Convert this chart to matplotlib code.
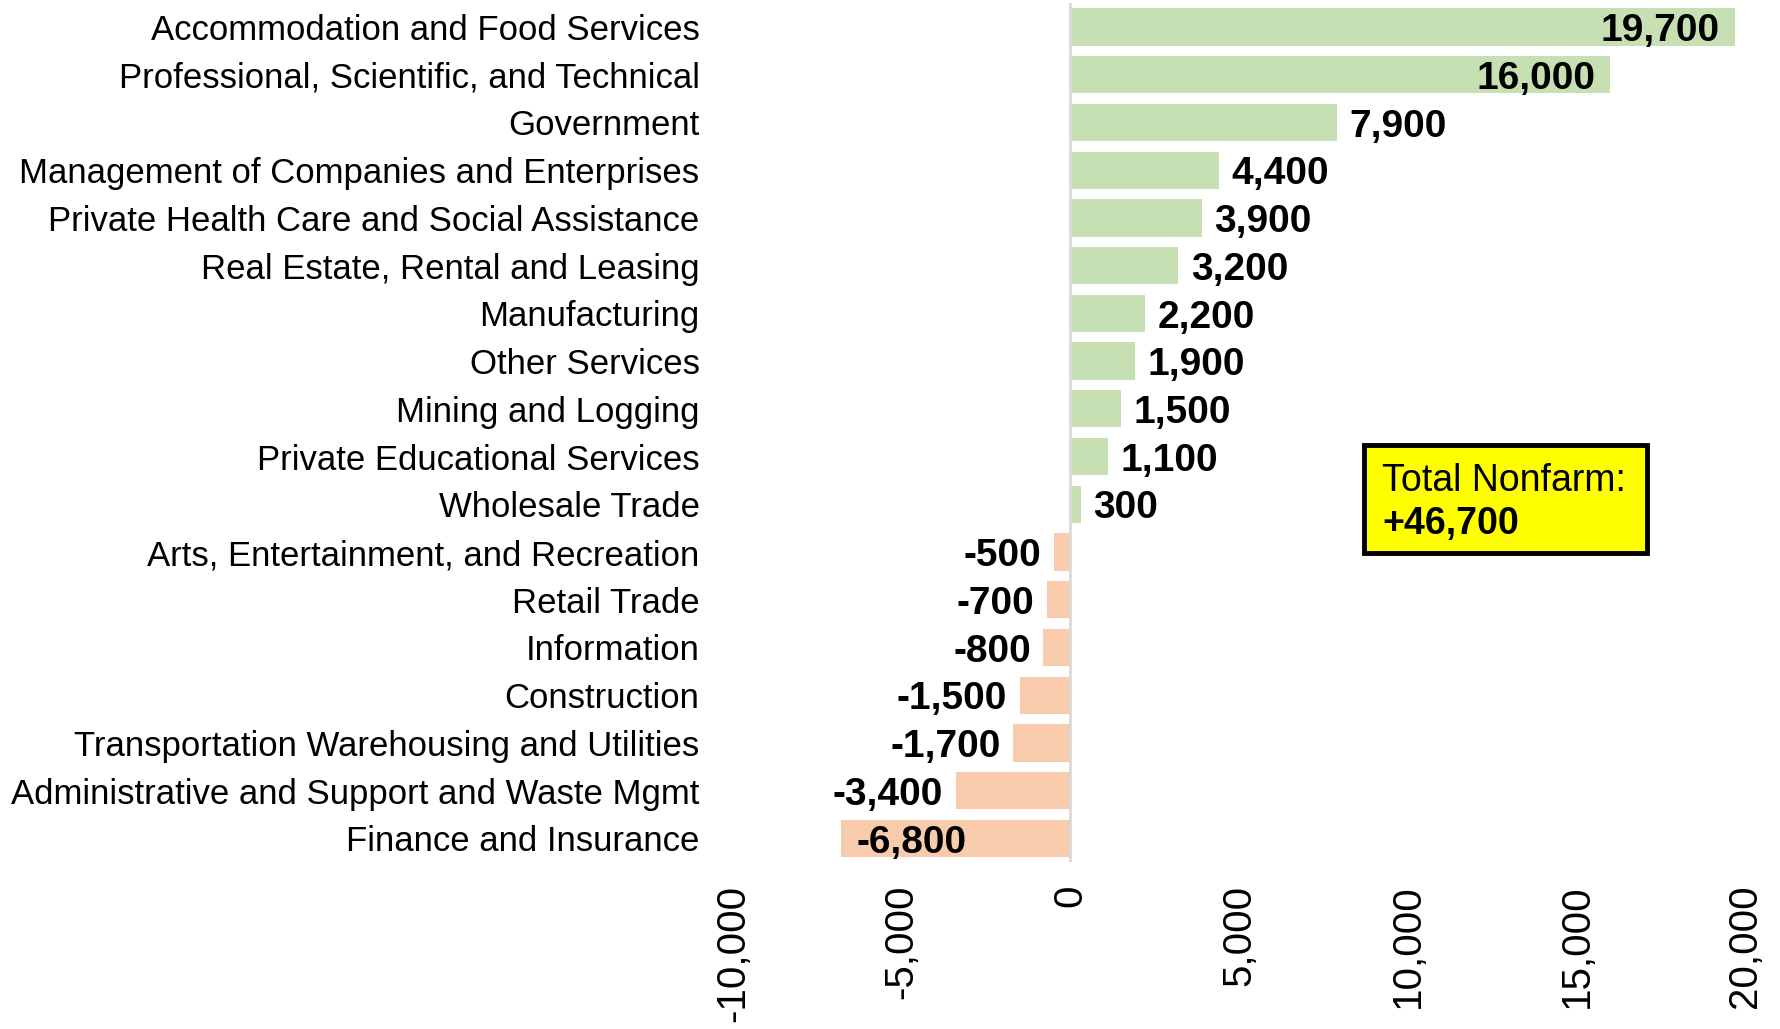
import numpy as np
import matplotlib.pyplot as plt
from matplotlib.patches import Rectangle
from matplotlib.ticker import FuncFormatter

# industries, top to bottom
industries = [
    "Accommodation and Food Services",
    "Professional, Scientific, and Technical",
    "Government",
    "Management of Companies and Enterprises",
    "Private Health Care and Social Assistance",
    "Real Estate, Rental and Leasing",
    "Manufacturing",
    "Other Services",
    "Mining and Logging",
    "Private Educational Services",
    "Wholesale Trade",
    "Arts, Entertainment, and Recreation",
    "Retail Trade",
    "Information",
    "Construction",
    "Transportation Warehousing and Utilities",
    "Administrative and Support and Waste Mgmt",
    "Finance and Insurance",
]
changes = [19700, 16000, 7900, 4400, 3900, 3200, 2200, 1900, 1500, 1100, 300,
           -500, -700, -800, -1500, -1700, -3400, -6800]
total_label = "+46,700"
xticks = [-10000, -5000, 0, 5000, 10000, 15000, 20000]

plt.rcParams['font.family'] = ['Liberation Sans', 'DejaVu Sans']

fig = plt.figure(figsize=(17.81, 10.29), dpi=100)
ax = fig.add_axes([0.4115, 0.162, 0.5685, 0.835])

y = np.arange(len(changes))
vals = np.array(changes)
colors = ['#C6E0B4' if v >= 0 else '#F8CBAD' for v in vals]
ax.barh(y, vals, height=0.78, color=colors)

ax.set_xlim(-10000, 20000)
ax.set_ylim(len(changes) - 0.5, -0.5)
ax.axvline(0, color='#D9D9D9', lw=2, zorder=3)

ax.set_yticks(y)
ax.set_yticklabels(industries, fontsize=25)
ax.set_xticks(xticks)
ax.xaxis.set_major_formatter(FuncFormatter(lambda v, p: f"{int(v):,}"))
ax.tick_params(axis='x', labelrotation=90, labelsize=29, length=0, pad=16)
ax.tick_params(axis='y', length=0, pad=24)
for s in ax.spines.values():
    s.set_visible(False)

# value labels
for i, v in enumerate(vals):
    txt = f"{v:,}"
    kw = dict(textcoords='offset points', va='center', fontsize=28, fontweight='bold')
    if v >= 15000:
        ax.annotate(txt, (v, i), xytext=(-11, -3), ha='right', **kw)
    elif v <= -5000:
        ax.annotate(txt, (v, i), xytext=(11, -3), ha='left', **kw)
    elif v >= 0:
        ax.annotate(txt, (v, i), xytext=(9, -3), ha='left', **kw)
    else:
        ax.annotate(txt, (v, i), xytext=(-9, -3), ha='right', **kw)

# total box
fig.patches.append(Rectangle((0.766, 0.463), 0.159, 0.105, transform=fig.transFigure,
                             facecolor='#FFFF00', edgecolor='black', lw=3.5))
fig.text(0.776, 0.533, "Total Nonfarm:", fontsize=27, va='center', ha='left')
fig.text(0.776, 0.491, total_label, fontsize=27, fontweight='bold', va='center', ha='left')

fig.savefig("out.png", dpi=100)
